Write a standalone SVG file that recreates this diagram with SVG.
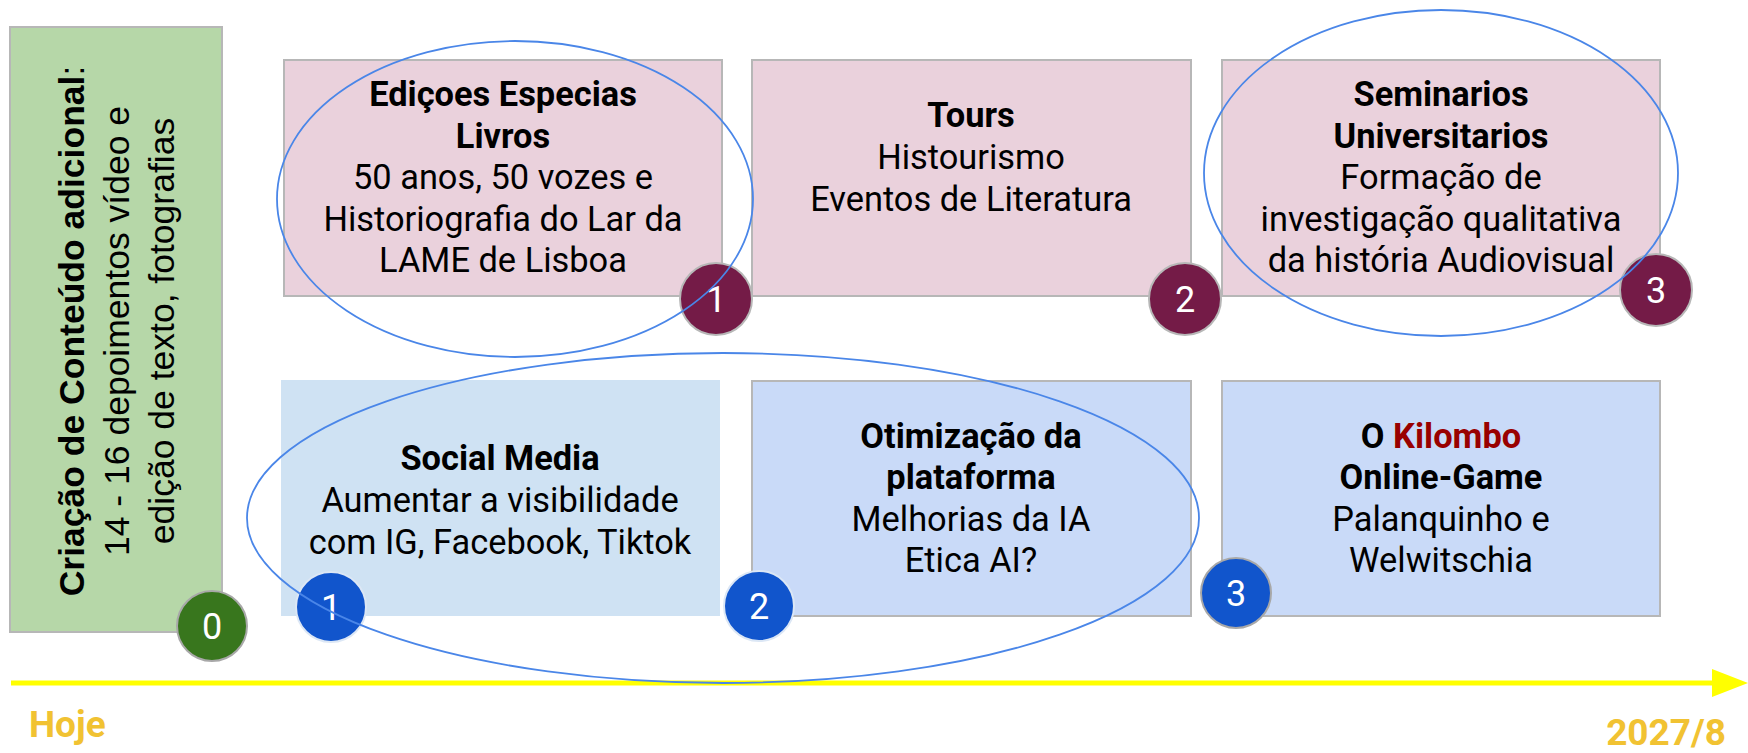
<svg xmlns="http://www.w3.org/2000/svg" width="1748" height="753" viewBox="0 0 1748 753">
<style>
.box{stroke:#B7B7B7;stroke-width:2}
.pink{fill:#EAD1DC}
.blue{fill:#C9DAF8}
.t{font-family:Roboto,"Liberation Sans",sans-serif;font-size:34.4px;fill:#000;text-anchor:middle}
.b{font-weight:bold}
.v{font-family:"Liberation Sans",Arial,sans-serif;font-size:35.5px;fill:#000;text-anchor:middle}
.num{font-family:Roboto,"Liberation Sans",sans-serif;font-size:36px;fill:#fff;text-anchor:middle}
.ell{fill:none;stroke:#4A86E8;stroke-width:1.8}
.foot{font-family:Roboto,"Liberation Sans",sans-serif;font-size:37px;font-weight:bold;fill:#F1C232}
</style>
<rect width="1748" height="753" fill="#fff"/>

<g id="timeline">
<line x1="11" y1="683" x2="1716" y2="683" stroke="#FFFF00" stroke-width="5"/>
<polygon points="1712,669 1748,683 1712,697" fill="#FFFF00"/>
<text class="foot" x="29" y="737">Hoje</text>
<text class="foot" x="1726" y="745" text-anchor="end">2027/8</text>
</g>

<g id="node0">
<rect class="box" x="10" y="27" width="212" height="605" fill="#B6D7A8"/>
<text class="v" transform="translate(84,331) rotate(-90)"><tspan font-weight="bold">Criação de Conteúdo adicional</tspan>:</text>
<text class="v" transform="translate(129,331) rotate(-90)">14 - 16 depoimentos vídeo e</text>
<text class="v" transform="translate(174,331) rotate(-90)">edição de texto, fotografias</text>
</g>

<g id="edicoes">
<rect class="box pink" x="284" y="60" width="438" height="236"/>
<text class="t b" x="503" y="106">Ediçoes Especias</text>
<text class="t b" x="503" y="148">Livros</text>
<text class="t" x="503" y="189">50 anos, 50 vozes e</text>
<text class="t" x="503" y="231">Historiografia do Lar da</text>
<text class="t" x="503" y="272">LAME de Lisboa</text>
</g>

<g id="tours">
<rect class="box pink" x="752" y="60" width="439" height="236"/>
<text class="t b" x="971" y="127">Tours</text>
<text class="t" x="971" y="169">Histourismo</text>
<text class="t" x="971" y="211">Eventos de Literatura</text>
</g>

<g id="seminarios">
<rect class="box pink" x="1222" y="60" width="438" height="236"/>
<text class="t b" x="1441" y="106">Seminarios</text>
<text class="t b" x="1441" y="148">Universitarios</text>
<text class="t" x="1441" y="189">Formação de</text>
<text class="t" x="1441" y="231">investigação qualitativa</text>
<text class="t" x="1441" y="272">da história Audiovisual</text>
</g>

<g id="socialmedia">
<rect x="281" y="380" width="439" height="236" fill="#CFE2F3"/>
<text class="t b" x="500" y="470">Social Media</text>
<text class="t" x="500" y="512">Aumentar a visibilidade</text>
<text class="t" x="500" y="554">com IG, Facebook, Tiktok</text>
</g>

<g id="otimizacao">
<rect class="box blue" x="752" y="381" width="439" height="235"/>
<text class="t b" x="971" y="448">Otimização da</text>
<text class="t b" x="971" y="489">plataforma</text>
<text class="t" x="971" y="531">Melhorias da IA</text>
<text class="t" x="971" y="572">Etica AI?</text>
</g>

<g id="kilombo">
<rect class="box blue" x="1222" y="381" width="438" height="235"/>
<text class="t b" x="1441" y="448">O <tspan fill="#990000">Kilombo</tspan></text>
<text class="t b" x="1441" y="489">Online-Game</text>
<text class="t" x="1441" y="531">Palanquinho e</text>
<text class="t" x="1441" y="572">Welwitschia</text>
</g>

<g id="badges">
<g id="badge0"><circle cx="212" cy="626" r="35" fill="#38761D" stroke="#A8A8A8" stroke-width="2"/><text class="num" x="212" y="639">0</text></g>
<g id="badgeT1"><circle cx="716" cy="299" r="36" fill="#741B47" stroke="#B7B7B7" stroke-width="2"/><text class="num" x="716" y="312">1</text></g>
<g id="badgeT2"><circle cx="1185" cy="299" r="36" fill="#741B47" stroke="#B7B7B7" stroke-width="2"/><text class="num" x="1185" y="312">2</text></g>
<g id="badgeT3"><circle cx="1656" cy="290" r="36" fill="#741B47" stroke="#B7B7B7" stroke-width="2"/><text class="num" x="1656" y="303">3</text></g>
<g id="badgeB1"><circle cx="331" cy="607" r="35" fill="#1155CC" stroke="#DCE7F5" stroke-width="2"/><text class="num" x="331" y="620">1</text></g>
<g id="badgeB2"><circle cx="759" cy="606" r="35" fill="#1155CC" stroke="#DCE7F5" stroke-width="2"/><text class="num" x="759" y="619">2</text></g>
<g id="badgeB3"><circle cx="1236" cy="593" r="35" fill="#1155CC" stroke="#A8A8A8" stroke-width="2"/><text class="num" x="1236" y="606">3</text></g>
</g>

<g id="connectors">
<ellipse class="ell" cx="515" cy="199" rx="238" ry="158"/>
<ellipse class="ell" cx="1441" cy="173" rx="237" ry="163"/>
<ellipse class="ell" cx="723" cy="518" rx="476" ry="165"/>
</g>
</svg>
